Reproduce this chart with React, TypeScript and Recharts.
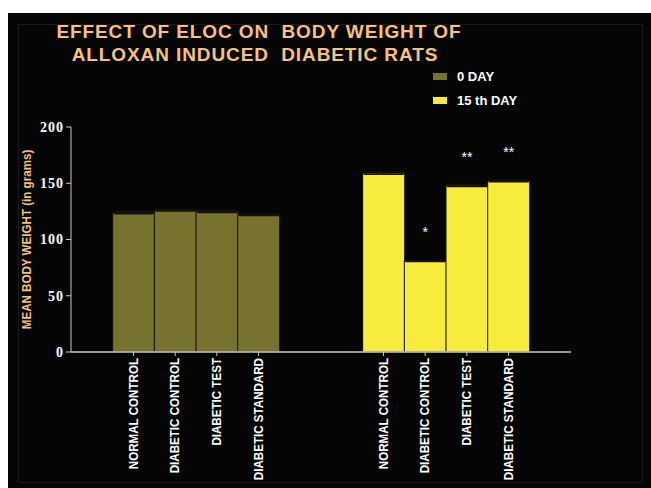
import { BarChart, Bar, XAxis, YAxis, ErrorBar, Legend, LabelList } from "recharts";

// Mean body weight (g) per treatment group, with SEM
const GROUPS = ["NORMAL CONTROL", "DIABETIC CONTROL", "DIABETIC TEST", "DIABETIC STANDARD"];
const DAY0_WEIGHT = [124, 126, 125, 122];
const DAY0_SEM = [1.2, 0.6, 1.0, 0.6];
const DAY15_WEIGHT = [159, 81, 148, 152];
const DAY15_SEM = [1.0, 0.6, 0.8, 0.6];
const DAY15_SIG = ["", "*", "**", "**"];
const Y_TICKS = [0, 50, 100, 150, 200];

const OLIVE = "#77732F";
const YELLOW = "#F7EB3B";
const PEACH = "#F6C27E";
const AXIS = "#c8c8c8";
const SANS = "'Liberation Sans', Arial, sans-serif";

type Row = {
  name: string;
  day0: number | null;
  day0Err?: number;
  day15: number | null;
  day15Err?: number;
  sig?: string;
};

const spacer = (): Row => ({ name: "", day0: null, day15: null });

// one empty slot either side, two between the day groups
const rows: Row[] = [
  spacer(),
  ...GROUPS.map((name, i) => ({ name, day0: DAY0_WEIGHT[i], day0Err: DAY0_SEM[i], day15: null })),
  spacer(),
  spacer(),
  ...GROUPS.map((name, i) => ({
    name,
    day0: null,
    day15: DAY15_WEIGHT[i],
    day15Err: DAY15_SEM[i],
    sig: DAY15_SIG[i],
  })),
  spacer(),
];

function GroupTick({ x, y, payload }: any) {
  if (!payload?.value) return null;
  return (
    <g>
      <line x1={x} x2={x} y1={y} y2={y + 4} stroke={AXIS} strokeWidth={1} />
      <text
        transform={`translate(${x},${y + 6}) rotate(-90) scale(1,1.1)`}
        textAnchor="end"
        dominantBaseline="central"
        fill="#fff"
        fontFamily={SANS}
        fontWeight="bold"
        fontSize={11.6}
      >
        {payload.value}
      </text>
    </g>
  );
}

function SigLabel({ x, y, width, value }: any) {
  if (!value) return null;
  return (
    <text x={x + width / 2} y={y - 24} textAnchor="middle" fill="#fff" fontSize={14} fontFamily={SANS}>
      {value}
    </text>
  );
}

function DayLegend({ payload }: any) {
  return (
    <div>
      {(payload ?? []).map((item: any) => (
        <div key={item.value} style={{ display: "flex", alignItems: "center", height: 24 }}>
          <span style={{ display: "inline-block", width: 14, height: 7, background: item.color, marginRight: 10 }} />
          <span style={{ color: "#fff", fontFamily: SANS, fontWeight: "bold", fontSize: 13 }}>{item.value}</span>
        </div>
      ))}
    </div>
  );
}

function YTitle({ viewBox }: any) {
  const cx = viewBox.x + 16;
  const cy = viewBox.y + viewBox.height / 2;
  return (
    <text
      transform={`translate(${cx},${cy}) rotate(-90) scale(1,1.1)`}
      textAnchor="middle"
      dominantBaseline="central"
      fill={PEACH}
      fontFamily={SANS}
      fontWeight="bold"
      fontSize={11.6}
    >
      MEAN BODY WEIGHT (in grams)
    </text>
  );
}

export default function App() {
  return (
    <div style={{ position: "absolute", left: 0, top: 0, width: 651, height: 488, background: "#fff", overflow: "hidden" }}>
      <div style={{ position: "absolute", left: 8, top: 13, width: 643, height: 475, background: "#050505" }} />
      <svg width={651} height={488} style={{ position: "absolute", left: 0, top: 0 }}>
        <rect x={18.5} y={24.5} width={624} height={458} fill="none" stroke="#1a1a1a" />
        <g fill={PEACH} fontFamily={SANS} fontWeight="bold" fontSize={19} letterSpacing={0.9} textAnchor="middle">
          <text x={259} y={38} xmlSpace="preserve">EFFECT OF ELOC ON  BODY WEIGHT OF</text>
          <text x={255} y={61} xmlSpace="preserve">ALLOXAN INDUCED  DIABETIC RATS</text>
        </g>
      </svg>
      <div style={{ position: "absolute", left: 0, top: 0 }}>
        <BarChart
          width={651}
          height={488}
          data={rows}
          margin={{ top: 127, right: 80, left: 11, bottom: 0 }}
          barCategoryGap={0}
        >
          <Legend
            layout="horizontal"
            verticalAlign="middle"
            align="center"
            width={130}
            wrapperStyle={{ top: 64, left: 433 }}
            content={<DayLegend />}
          />
          <YAxis
            width={60}
            domain={[0, 200]}
            ticks={Y_TICKS}
            allowDataOverflow
            stroke={AXIS}
            tickSize={5}
            tickMargin={2}
            tick={{ fill: "#fff", fontFamily: "'Liberation Serif', 'Times New Roman', serif", fontWeight: "bold", fontSize: 14, letterSpacing: 1 }}
            label={{ content: <YTitle /> }}
          />
          <XAxis
            dataKey="name"
            height={136}
            interval={0}
            stroke={AXIS}
            strokeWidth={1.5}
            tickLine={false}
            tickSize={0}
            tickMargin={0}
            tick={<GroupTick />}
          />
          <Bar dataKey="day0" name="0 DAY" stackId="w" fill={OLIVE} stroke="#111" strokeWidth={1} isAnimationActive={false}>
            <ErrorBar dataKey="day0Err" width={20} stroke="#111" strokeWidth={1.5} />
          </Bar>
          <Bar dataKey="day15" name="15 th DAY" stackId="w" fill={YELLOW} stroke="#111" strokeWidth={1} isAnimationActive={false}>
            <ErrorBar dataKey="day15Err" width={20} stroke="#111" strokeWidth={1.5} />
            <LabelList dataKey="sig" content={<SigLabel />} />
          </Bar>
        </BarChart>
      </div>
    </div>
  );
}
